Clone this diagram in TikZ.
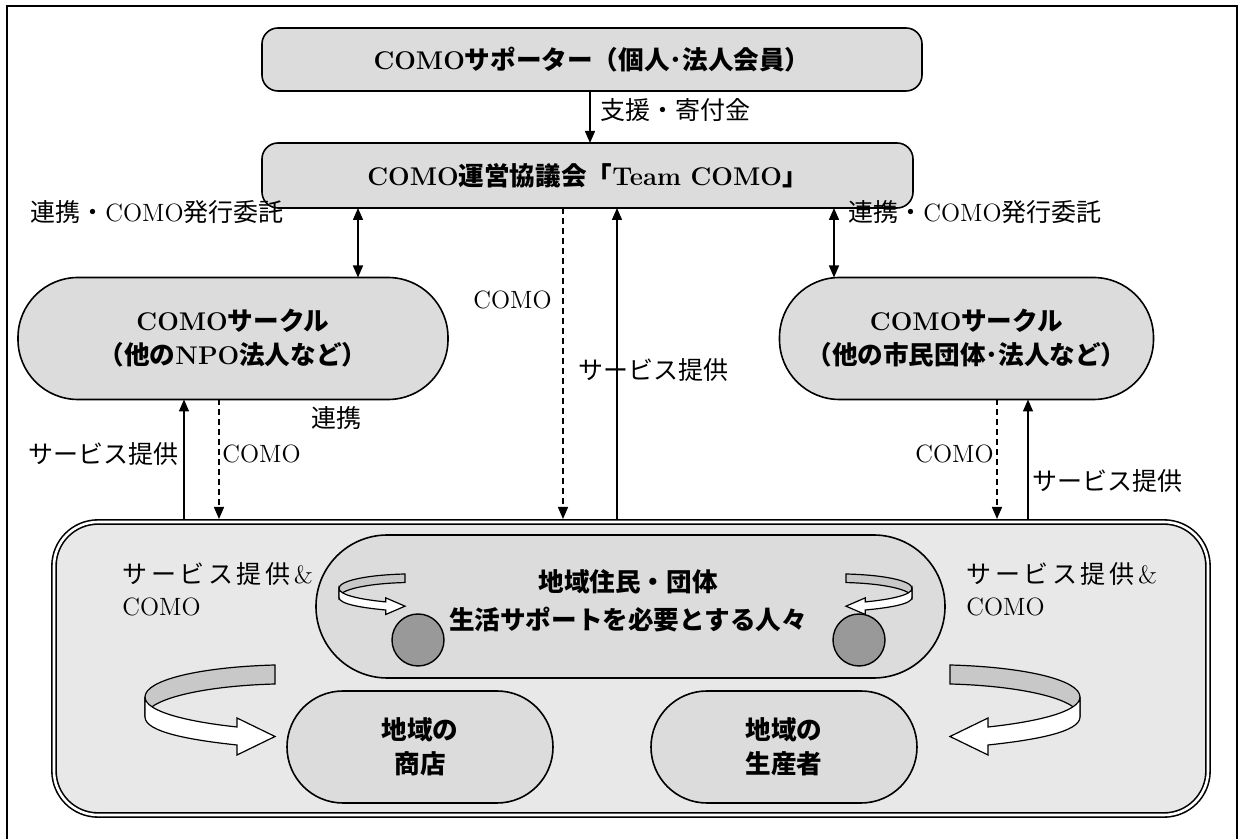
\documentclass[tikz,border=0pt]{standalone}
\usepackage{fontspec}
\newfontfamily\jp{Noto Sans CJK JP}
\usetikzlibrary{arrows.meta,calc}
\definecolor{boxgray}{HTML}{DCDCDC}
\definecolor{regiongray}{HTML}{E8E8E8}
\definecolor{dotgray}{HTML}{999999}
\definecolor{ribgray}{HTML}{C8C8C8}
\newcommand\J[1]{{\jp #1}}
\newcommand\lsc[1]{\makebox[14.3pt][l]{#1}}
\newcommand\ribbon[1]{\begin{scope}[#1]
 \filldraw[fill=ribgray,line width=0.6pt] (0,0) .. controls (-75,2) and (-130,15) .. (-130,32) -- (-130,52) .. controls (-130,35) and (-75,21) .. (0,19) -- cycle;
 \filldraw[fill=white,line width=0.6pt] (-130,32) .. controls (-130,47) and (-85,57) .. (-38,62) -- (-38,53) -- (0,71.5) -- (-38,90) -- (-38,80) .. controls (-85,75) and (-130,67) .. (-130,52) -- cycle;
\end{scope}}
\tikzset{
  box/.style={draw, line width=0.8pt, fill=boxgray, inner sep=0pt, outer sep=0pt, align=center, font=\fontsize{12.8}{17}\selectfont\bfseries},
  region/.style={draw, line width=0.8pt, double=white, double distance=1.3pt, fill=regiongray, inner sep=0pt, outer sep=1.5pt, rounded corners=22pt},
  dot/.style={circle, draw, line width=0.7pt, fill=dotgray, minimum size=26pt, inner sep=0pt},
  lbl/.style={inner sep=0pt, anchor=west},
  arr/.style={line width=0.7pt, -{Triangle[length=6pt,width=5pt]}},
  darr/.style={line width=0.7pt, {Triangle[length=6pt,width=5pt]}-{Triangle[length=6pt,width=5pt]}},
  dashline/.style={dash pattern=on 3pt off 2pt},
}
\begin{document}
\begin{tikzpicture}[x=0.5pt, y=-0.5pt, font=\fontsize{12.5}{15}\selectfont]
\useasboundingbox (0,0) rectangle (1239,839);
% outer frame
\draw[line width=1pt] (7,850) -- (7,6) -- (1237,6) -- (1237,850);

% boxes
\node[box, minimum width=330pt, minimum height=31.5pt, rounded corners=8pt] (top) at (592,59.5) {COMO\J{サポーター（個人･法人会員）}};
\node[box, minimum width=325.5pt, minimum height=32.5pt, rounded corners=8pt] (council) at (587.5,175.5) {COMO\J{運営協議会「}Team COMO\J{」}};
\node[box, minimum width=215pt, minimum height=61pt, rounded corners=30pt] (leftc) at (233,338.5) {COMO\J{サークル}\\\J{（他の}NPO\J{法人など）}};
\node[box, minimum width=187pt, minimum height=61pt, rounded corners=30pt] (rightc) at (966.5,338.5) {COMO\J{サークル}\\\J{（他の市民団体･法人など）}};

% region
\node[region, minimum width=577pt, minimum height=146.5pt] (region) at (631,668.5) {};
\node[box, minimum width=314.5pt, minimum height=71.5pt, rounded corners=35.7pt] (inner) at (630.5,606.5) {};
\node[box, fill=none, draw=none, anchor=center] (innertext) at (628,601) {\J{地域住民・団体}\\[2pt]\J{生活サポートを必要とする人々}};
\node[box, minimum width=133pt, minimum height=56pt, rounded corners=28pt] (shop) at (420,747) {\J{地域の}\\\J{商店}};
\node[box, minimum width=133pt, minimum height=56pt, rounded corners=28pt] (prod) at (784,747) {\J{地域の}\\\J{生産者}};
\node[dot] (dotl) at (418,640) {};
\node[dot] (dotr) at (859,640) {};

% ribbons
\ribbon{shift={(275,665)}}
\ribbon{shift={(950,665)}, xscale=-1}
\ribbon{shift={(405,574)}, xscale=0.508, yscale=0.45}
\ribbon{shift={(846,574)}, xscale=-0.508, yscale=0.45}

% connector x positions
\coordinate (xa) at (590,0);
\coordinate (xl) at (358,0);
\coordinate (xr) at (834,0);
\coordinate (xm1) at (563,0);
\coordinate (xm2) at (617,0);
\coordinate (xl1) at (184,0);
\coordinate (xl2) at (219,0);
\coordinate (xr1) at (997,0);
\coordinate (xr2) at (1028,0);

\draw[arr] (top.south -| xa) -- (council.north -| xa);
\draw[darr] (council.south -| xl) -- (leftc.north -| xl);
\draw[darr] (council.south -| xr) -- (rightc.north -| xr);
\draw[arr, dashline] (council.south -| xm1) -- (region.north -| xm1);
\draw[arr] (region.north -| xm2) -- (council.south -| xm2);
\draw[arr] (region.north -| xl1) -- (leftc.south -| xl1);
\draw[arr, dashline] (leftc.south -| xl2) -- (region.north -| xl2);
\draw[arr, dashline] (rightc.south -| xr1) -- (region.north -| xr1);
\draw[arr] (region.north -| xr2) -- (rightc.south -| xr2);

% labels
\node[lbl] (t1) at (600,110) {\J{支援・寄付金}};
\node[lbl] (t2) at (30,212) {\J{連携・}COMO\J{発行委託}};
\node[lbl] (t3) at (848,212) {\J{連携・}COMO\J{発行委託}};
\node[lbl, anchor=east] (t4) at (552,300) {COMO};
\node[lbl] (t5) at (578,370) {\J{サービス提供}};
\node[lbl] (t6) at (311,418) {\J{連携}};
\node[lbl] (t7) at (28,454) {\J{サービス提供}};
\node[lbl] (t8) at (222,454) {COMO};
\node[lbl, anchor=east] (t9) at (994,454) {COMO};
\node[lbl] (t10) at (1032,481) {\J{サービス提供}};
\node[lbl, align=left, font=\fontsize{12.5}{16}\selectfont] (t11) at (122,589) {\J{\lsc{サ}\lsc{ー}\lsc{ビ}\lsc{ス}\lsc{提}\lsc{供}}\&\\COMO};
\node[lbl, align=left, font=\fontsize{12.5}{16}\selectfont] (t12) at (966,589) {\J{\lsc{サ}\lsc{ー}\lsc{ビ}\lsc{ス}\lsc{提}\lsc{供}}\&\\COMO};
\end{tikzpicture}
\end{document}
